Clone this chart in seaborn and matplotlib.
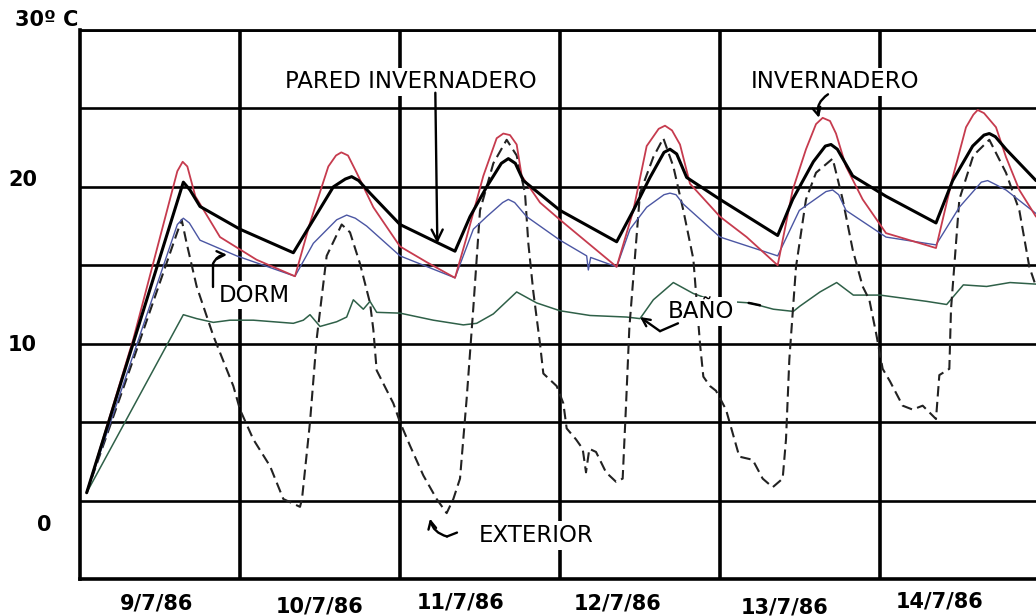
import matplotlib
matplotlib.use("Agg")
import matplotlib.pyplot as plt
import seaborn as sns
import pandas as pd

# ---------------- data (hours from start of 9/7/86, temperature in deg C) ----------------
hours_red = [1.0, 8.0, 14.6, 15.4, 16.1, 17.3, 21.0, 26.5, 32.25, 34.5, 37.25, 38.4, 39.2, 40.2, 41.5,
             44.0, 48.0, 52.0, 56.25, 58.0, 60.5, 62.5, 63.5, 64.5, 65.5, 66.25, 69.0, 72.0, 80.5, 83.0,
             85.0, 86.8, 87.75, 88.8, 90.0, 91.5, 96.0, 100.0, 104.65, 106.9, 108.9, 110.4, 111.4, 112.5,
             113.4, 114.9, 117.4, 120.9, 128.4, 130.9, 132.9, 134.0, 134.65, 135.6, 137.4, 138.9, 140.9, 143.4]
temp_red = [0.5, 10.3, 21.0, 21.6, 21.3, 19.4, 16.8, 15.35, 14.3, 17.7, 21.3, 22.0, 22.2, 22.0, 20.9,
            18.7, 16.2, 15.2, 14.2, 16.8, 20.7, 23.1, 23.4, 23.3, 22.7, 20.7, 19.0, 17.9, 14.9, 18.5,
            22.6, 23.7, 23.9, 23.6, 22.7, 20.2, 18.1, 16.8, 15.0, 19.8, 22.4, 24.0, 24.4, 24.2,
            23.4, 21.3, 19.2, 17.05, 16.1, 20.6, 23.8, 24.6, 24.9, 24.7, 23.8, 21.9, 19.8, 18.1]

hours_wall = [1.0, 15.5, 16.5, 18.0, 24.0, 32.0, 35.0, 38.0, 39.8, 40.75, 41.8, 43.5, 48.0, 56.25, 58.5,
              61.0, 63.2, 64.25, 65.3, 66.5, 72.0, 80.5, 83.0, 85.5, 87.6, 88.5, 89.5, 91.0, 96.0, 104.65,
              106.9, 110.0, 111.8, 112.65, 113.6, 115.9, 120.9, 128.4, 130.9, 133.9, 135.6, 136.4, 137.3,
              138.9, 143.4]
temp_wall = [0.5, 20.3, 19.8, 18.75, 17.3, 15.8, 17.9, 20.0, 20.5, 20.65, 20.4, 19.6, 17.6, 15.9, 18.1,
             20.0, 21.5, 21.8, 21.5, 20.4, 18.5, 16.5, 18.5, 20.6, 22.2, 22.4, 22.1, 20.6, 19.2, 16.9,
             19.2, 21.6, 22.6, 22.7, 22.4, 20.7, 19.4, 17.7, 20.4, 22.6, 23.3, 23.4, 23.2,
             22.4, 20.4]

hours_dorm = [1.0, 14.6, 15.5, 16.4, 18.0, 23.5, 32.25, 35.0, 38.5, 40.0, 41.3, 43.0, 48.0, 56.25, 59.0,
              61.0, 63.4, 64.25, 65.2, 67.0, 72.0, 76.0, 76.25, 76.6, 80.5, 82.5, 85.0, 87.6, 88.5, 89.4,
              90.5, 96.0, 104.65, 107.9, 111.9, 112.9, 113.8, 114.9, 120.9, 128.4, 131.9, 135.2, 136.15,
              137.1, 138.9, 143.4]
temp_dorm = [0.5, 17.6, 18.0, 17.7, 16.6, 15.6, 14.3, 16.4, 17.9, 18.2, 18.0, 17.5, 15.6, 14.2, 17.3,
             18.1, 19.0, 19.2, 19.0, 18.1, 16.6, 15.6, 14.7, 15.5, 14.9, 17.3, 18.7, 19.5, 19.6, 19.5,
             18.9, 16.8, 15.6, 18.5, 19.7, 19.8, 19.5, 18.5, 16.8, 16.3, 18.7, 20.3, 20.4,
             20.2, 19.8, 18.3]

hours_bath = [1.0, 15.5, 17.5, 20.0, 22.5, 26.0, 32.0, 33.5, 34.5, 36.0, 38.5, 40.0, 41.0, 42.5, 43.5,
              44.5, 48.0, 53.0, 57.5, 59.5, 62.0, 65.5, 68.5, 72.0, 76.5, 82.0, 84.0, 86.0, 89.0, 92.0,
              94.0, 97.0, 100.5, 104.0, 107.0, 108.0, 111.0, 113.5, 116.0, 120.0, 127.0, 130.0, 131.0,
              132.5, 136.0, 139.5, 143.4]
temp_bath = [0.5, 11.85, 11.6, 11.36, 11.5, 11.5, 11.3, 11.5, 11.85, 11.1, 11.4, 11.7, 12.8, 12.2, 12.7,
             12.0, 11.95, 11.5, 11.2, 11.3, 11.9, 13.3, 12.6, 12.1, 11.8, 11.7, 11.6, 12.8, 13.9, 13.2,
             12.9, 12.7, 12.6, 12.2, 12.06, 12.4, 13.3, 13.9, 13.1, 13.1, 12.7, 12.5, 13.0,
             13.75, 13.65, 13.9, 13.8]

hours_ext = [1.0, 8.0, 14.5, 15.25, 16.0, 17.5, 20.0, 23.0, 24.0, 26.0, 28.5, 30.5, 33.0, 33.3, 34.5,
             35.5, 37.0, 39.25, 40.5, 42.0, 43.5, 44.0, 44.5, 47.0, 48.0, 49.5, 51.5, 53.5, 55.0, 56.0,
             57.0, 58.0, 59.0, 60.0, 62.0, 64.0, 65.5, 66.75, 67.25, 68.0, 69.0, 69.5, 71.5, 72.5, 73.0,
             74.4, 75.4, 75.9, 76.4, 77.4, 78.9, 80.4, 81.4, 81.9, 82.4, 84.0, 86.0, 87.5, 89.0, 90.5,
             92.0, 93.0, 93.5, 94.5, 95.4, 96.9, 98.9, 100.9, 102.4, 103.9, 105.4, 105.9, 106.4, 107.4,
             108.9, 110.4, 112.9, 114.4, 115.9, 117.4, 118.4, 119.4, 120.4, 121.5, 123.4, 124.9, 126.4,
             128.4, 128.9, 130.4, 130.65, 131.9, 134.0, 136.4, 138.9, 140.9, 142.4, 143.4]
temp_ext = [0.5, 9.0, 17.0, 17.9, 16.4, 13.65, 10.5, 7.3, 5.8, 3.9, 2.2, 0.1, -0.4, 0.1, 5.0,
            10.3, 15.6, 17.6, 17.1, 15.1, 12.6, 10.9, 8.3, 6.2, 5.0, 3.5, 1.6, 0.1, -0.8, 0.1,
            1.4, 6.5, 12.3, 18.5, 21.5, 23.0, 22.0, 19.6, 16.4, 13.3, 10.0, 8.1, 7.3, 6.2, 4.6,
            3.9, 3.3, 1.8, 3.3, 3.1, 1.8, 1.2, 1.4, 6.05, 11.0, 19.6, 21.9, 23.1, 21.3, 18.5,
            15.4, 10.0, 7.9, 7.3, 7.0, 5.8, 2.8, 2.6, 1.4, 0.85, 1.4, 3.9, 9.0, 14.9,
            19.2, 20.9, 21.8, 19.2, 16.0, 13.65, 12.8, 10.7, 8.4, 7.6, 6.05, 5.8, 6.05,
            5.2, 8.0, 8.4, 12.2, 19.2, 22.0, 23.0, 20.9, 18.5, 14.9, 13.65]

y_labels = ["30º C", "20", "10", "0"]
date_labels = ["9/7/86", "10/7/86", "11/7/86", "12/7/86", "13/7/86", "14/7/86"]
series_labels = ["PARED INVERNADERO", "INVERNADERO", "DORM", "BAÑO", "EXTERIOR"]

# ---------------- figure ----------------
sns.set_theme(style="white")
plt.rcParams['font.family'] = ['DejaVu Sans']

W, H = 1036, 616
fig = plt.figure(figsize=(W / 100, H / 100), dpi=100)
ax = fig.add_axes([80 / W, 37 / H, 956 / W, 549 / H])
ax.set_xlim(0, 143.4)
ax.set_ylim(-5, 30)

# grid / frame
ax.set_yticks(range(-5, 31, 5))
ax.set_xticks([24, 48, 72, 96, 120])
ax.tick_params(labelleft=False, labelbottom=False, length=0)
ax.grid(axis='y', color='black', linewidth=1.9)
ax.grid(axis='x', color='black', linewidth=2.6)
ax.set_axisbelow(True)
for s in ['left', 'bottom']:
    ax.spines[s].set_color('black')
    ax.spines[s].set_linewidth(2.6)
ax.spines['top'].set_color('black')
ax.spines['top'].set_linewidth(2.0)
ax.spines['right'].set_visible(False)

RED = "#c63b4e"
BLUE = "#4b56a3"
GREEN = "#2f6048"

common = dict(ax=ax, estimator=None, sort=False, legend=False)
sns.lineplot(x=hours_bath, y=temp_bath, color=GREEN, linewidth=1.1, **common)
sns.lineplot(x=hours_ext, y=temp_ext, color="#222222", linewidth=1.5, linestyle=(0, (5, 2.6)), **common)
sns.lineplot(x=hours_dorm, y=temp_dorm, color=BLUE, linewidth=1.0, **common)
sns.lineplot(x=hours_red, y=temp_red, color=RED, linewidth=1.3, **common)
sns.lineplot(x=hours_wall, y=temp_wall, color="black", linewidth=2.2, **common)
ax.set_xlabel("")
ax.set_ylabel("")

# ---------------- axis labels ----------------
lab_kw = dict(fontsize=15, fontweight='bold', color='black', clip_on=False, va='center', ha='left')
ax.text(-9.75, 30.64, y_labels[0], **lab_kw)
ax.text(-10.8, 20.45, y_labels[1], **lab_kw)
ax.text(-10.8, 9.94, y_labels[2], **lab_kw)
ax.text(-6.45, -1.53, y_labels[3], **lab_kw)

date_pos = [(11.55, -6.56), (36.0, -6.75), (57.15, -6.5), (80.7, -6.56), (105.75, -6.82), (129.0, -6.43)]
for (dx, dy), lab in zip(date_pos, date_labels):
    ax.text(dx, dy, lab, fontsize=15, fontweight='bold', color='black', ha='center', va='center',
            clip_on=False)

# ---------------- annotations ----------------
ann_kw = dict(fontsize=16.5, color='black', ha='center', va='center', zorder=6,
              bbox=dict(boxstyle='square,pad=0.12', facecolor='white', edgecolor='none'))
arrow = dict(arrowstyle='->', color='black', lw=1.7, mutation_scale=20, shrinkA=0, shrinkB=0)

ax.text(49.65, 26.7, series_labels[0], **ann_kw)
ax.annotate("", xy=(53.6, 16.4), xytext=(53.3, 26.0), arrowprops=arrow, zorder=7)

ax.text(113.25, 26.7, series_labels[1], **ann_kw)
ax.annotate("", xy=(110.85, 24.4), xytext=(112.2, 25.9),
            arrowprops=dict(arrow, connectionstyle='arc3,rad=0.35', mutation_scale=14), zorder=7)

ax.text(26.1, 13.1, series_labels[2], **ann_kw)
ax.plot([19.95, 19.95], [13.6, 15.1], color='black', lw=1.7, zorder=7)
ax.annotate("", xy=(22.05, 15.67), xytext=(19.95, 15.1),
            arrowprops=dict(arrow, connectionstyle='arc3,rad=-0.3', mutation_scale=14), zorder=7)

ax.text(93.15, 12.04, series_labels[3], **ann_kw)
ax.plot([89.7, 87.0], [11.3, 10.8], color='black', lw=1.7, zorder=7)
ax.annotate("", xy=(84.0, 11.7), xytext=(87.0, 10.8),
            arrowprops=dict(arrow, mutation_scale=14), zorder=7)
ax.plot([100.3, 102.0], [12.6, 12.45], color='black', lw=1.8, zorder=7)

ax.text(68.4, -2.23, series_labels[4], **ann_kw)
ax.plot([56.55, 55.05], [-2.04, -2.29], color='black', lw=1.7, zorder=7)
ax.annotate("", xy=(52.5, -1.15), xytext=(55.05, -2.29),
            arrowprops=dict(arrow, connectionstyle='arc3,rad=-0.3', mutation_scale=14), zorder=7)

fig.savefig("out.png", dpi=100)
